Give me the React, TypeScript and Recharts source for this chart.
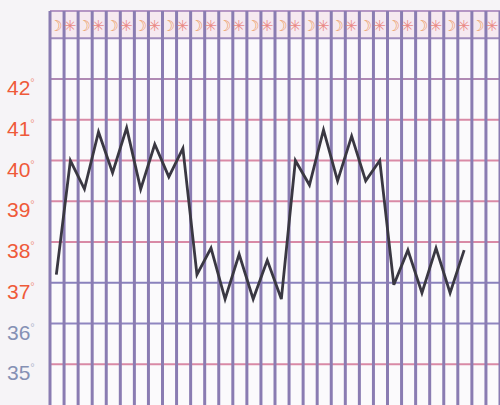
import {
  ComposedChart, Line, Scatter, XAxis, YAxis, ReferenceLine, ReferenceArea,
} from "recharts";

// temperature readings, one per half-day column
const temps = [
  37.2, 40.0, 39.3, 40.7, 39.7, 40.8, 39.3, 40.4, 39.6, 40.3,
  37.2, 37.85, 36.6, 37.7, 36.6, 37.55, 36.6, 40.0, 39.4, 40.75,
  39.5, 40.6, 39.5, 40.0, 36.95, 37.8, 36.75, 37.85, 36.75, 37.8,
];
const degreeTicks = [35, 36, 37, 38, 39, 40, 41, 42];
const rowLines = [35, 36, 37, 38, 39, 40, 41, 42, 43, 43.67];
const rowColors = ["#d98aa6", "#8f86c0", "#8a82bd", "#d98aa6", "#d98aa6", "#d98aa6", "#d98aa6", "#b08ab4", "#a08cbc", "#b596c4"];
const columns = Array.from({ length: 33 }, (_, i) => i);
const headerGlyphs = ["☽", "✳"];

const series = temps.map((t, i) => ({ x: i + 0.45, t }));
const header = columns.slice(0, 32).map((c) => ({
  x: c + 0.5,
  y: 43.33,
  g: headerGlyphs[c % 2],
}));

const LABEL_HOT = "#ef5a3a";
const LABEL_COOL = "#8590b4";

function DegreeTick({ y, payload }: any) {
  const v = payload.value;
  const col = v >= 37 ? LABEL_HOT : LABEL_COOL;
  return (
    <text x={7} y={y + 16} fill={col} fontSize={21} fontWeight={500} fontFamily="Liberation Sans, Arial, sans-serif" textAnchor="start">
      {v}
      <tspan fontSize={11} dy={-9} fill={col} opacity={0.6}>°</tspan>
    </text>
  );
}

function Glyph(p: any) {
  const odd = p.payload.g === headerGlyphs[1];
  return (
    <text
      x={p.cx - 1}
      y={p.cy + 6}
      textAnchor="middle"
      fontSize={odd ? 15 : 15}
      fontWeight="bold"
      fill={odd ? "#ea8a86" : "#eb9a5e"}
      fontFamily="DejaVu Sans, sans-serif"
    >
      {p.payload.g}
    </text>
  );
}

export default function App() {
  return (
    <div style={{ position: "absolute", left: 0, top: 0, width: 500, height: 405, background: "#f6f4f7" }}>
      <ComposedChart width={500} height={405} margin={{ top: 11, right: 0, bottom: 0, left: 0 }}>
        <XAxis type="number" dataKey="x" domain={[0, 32]} hide allowDataOverflow />
        <YAxis
          type="number"
          domain={[34, 43.67]}
          ticks={degreeTicks}
          width={50}
          axisLine={false}
          tickLine={false}
          tick={<DegreeTick />}
          allowDataOverflow
        />
        <ReferenceArea y1={34} y2={43.67} x1={0} x2={32} fill="#fbfafc" fillOpacity={1} stroke="none" />
        <ReferenceArea y1={43} y2={43.67} x1={0} x2={32} fill="#f6e9f0" fillOpacity={1} stroke="none" />
        {rowLines.map((r, i) => (
          <ReferenceLine key={"r" + r} y={r} stroke={rowColors[i]} strokeWidth={2} />
        ))}
        {columns.map((c) => (
          <ReferenceLine key={"c" + c} x={c} stroke="#8a7cb2" strokeWidth={3} />
        ))}
        <Scatter data={header} dataKey="y" shape={<Glyph />} isAnimationActive={false} />
        <Line
          data={series}
          dataKey="t"
          type="linear"
          stroke="#3a3842"
          strokeWidth={2.8}
          dot={false}
          activeDot={false}
          isAnimationActive={false}
        />
      </ComposedChart>
    </div>
  );
}
